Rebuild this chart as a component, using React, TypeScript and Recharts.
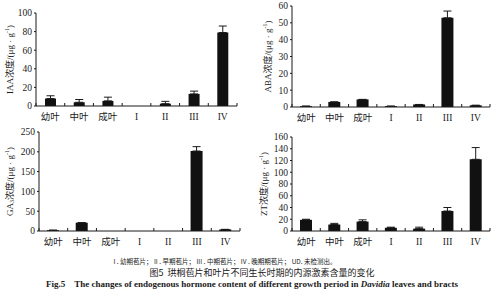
import React from 'react';
import { BarChart, Bar, XAxis, YAxis, ErrorBar } from 'recharts';

const categories = ['幼叶', '中叶', '成叶', 'I', 'II', 'III', 'IV'];

const iaaValues = [8, 4, 5.5, 0, 2.5, 13, 79];
const iaaErrors = [3, 3, 4, 0, 2.5, 3, 7];
const iaaTicks = [0, 20, 40, 60, 80, 100];

const abaValues = [0.5, 3, 4.5, 0.5, 1.5, 53, 1];
const abaErrors = [0, 0, 0, 0, 0, 4, 0];
const abaTicks = [0, 10, 20, 30, 40, 50, 60];

const gaValues = [2, 21, 0, 0, 0, 202, 4];
const gaErrors = [0, 0, 0, 0, 0, 11, 0];
const gaTicks = [0, 50, 100, 150, 200, 250];

const ztValues = [19, 11, 16, 5.5, 4, 34, 122];
const ztErrors = [1, 2, 3, 1, 2.5, 6, 20];
const ztTicks = [0, 20, 40, 60, 80, 100, 120, 140, 160];

const FONT = "'Liberation Serif', 'Times New Roman', 'Noto Sans CJK SC', serif";
const INK = '#1a1a1a';

function buildRows(values: number[], errors: number[]) {
  return categories.map((name, i) => ({ name, value: values[i], err: [0, errors[i]] }));
}

function CatTick(props: any) {
  const { x, payload, index, axisY, band } = props;
  const left = x - band / 2;
  return (
    <g>
      <line x1={left} x2={left} y1={axisY} y2={axisY - 3} stroke={INK} strokeWidth={1} />
      {index === categories.length - 1 ? (
        <line x1={x + band / 2} x2={x + band / 2} y1={axisY} y2={axisY - 3} stroke={INK} strokeWidth={1} />
      ) : null}
      <text x={x} y={axisY + 14} textAnchor="middle" fontSize={9.5} fill={INK} fontFamily={FONT}>
        {payload.value}
      </text>
    </g>
  );
}

function YLabel(props: any) {
  const { viewBox, lx, main, sub } = props;
  const cy = viewBox.y + viewBox.height / 2;
  return (
    <text
      x={lx}
      y={cy}
      transform={`rotate(-90, ${lx}, ${cy})`}
      textAnchor="middle"
      dominantBaseline="central"
      fontSize={9}
      fill={INK}
      fontFamily={FONT}
    >
      {main}
      {sub ? (
        <tspan fontSize={6} dy={2}>{sub}</tspan>
      ) : null}
      <tspan dy={sub ? -2 : 0}>浓度/(μg · g</tspan>
      <tspan fontSize={6} dy={-3}>-1</tspan>
      <tspan dy={3}>)</tspan>
    </text>
  );
}

type PanelProps = {
  left: number;
  top: number;
  width: number;
  height: number;
  margin: { top: number; right: number; bottom: number; left: number };
  yWidth: number;
  xHeight: number;
  values: number[];
  errors: number[];
  ticks: number[];
  labelMain: string;
  labelSub?: string;
  labelX: number;
  barSize: number;
};

function Panel(p: PanelProps) {
  const data = buildRows(p.values, p.errors);
  const plotW = p.width - p.margin.left - p.margin.right - p.yWidth;
  const band = plotW / categories.length;
  const axisY = p.height - p.margin.bottom - p.xHeight;
  const max = p.ticks[p.ticks.length - 1];
  return (
    <div style={{ position: 'absolute', left: p.left, top: p.top }}>
      <BarChart width={p.width} height={p.height} data={data} margin={p.margin} barCategoryGap={0}>
        <XAxis
          dataKey="name"
          height={p.xHeight}
          axisLine={{ stroke: INK, strokeWidth: 1 }}
          tickLine={false}
          interval={0}
          tick={(tp: any) => <CatTick {...tp} axisY={axisY} band={band} />}
        />
        <YAxis
          width={p.yWidth}
          domain={[0, max]}
          ticks={p.ticks}
          interval={0}
          axisLine={{ stroke: INK, strokeWidth: 1 }}
          tickLine={{ stroke: INK, strokeWidth: 1 }}
          tickSize={2}
          tickMargin={2}
          tick={{ fontSize: 9.5, fill: INK, fontFamily: FONT }}
          label={<YLabel lx={p.labelX} main={p.labelMain} sub={p.labelSub} />}
        />
        <Bar dataKey="value" fill="#111" barSize={p.barSize} isAnimationActive={false}>
          <ErrorBar dataKey="err" width={4} stroke={INK} strokeWidth={1} direction="y" />
        </Bar>
      </BarChart>
    </div>
  );
}

export default function App() {
  return (
    <div
      style={{
        position: 'fixed',
        left: 0,
        top: 0,
        width: 500,
        height: 301,
        background: '#fff',
        overflow: 'hidden',
        fontFamily: FONT,
      }}
    >
      <Panel
        left={0}
        top={0}
        width={250}
        height={125}
        margin={{ top: 13, right: 13, bottom: 0, left: 0 }}
        yWidth={36}
        xHeight={19}
        values={iaaValues}
        errors={iaaErrors}
        ticks={iaaTicks}
        labelMain="IAA"
        labelX={10}
        barSize={11}
      />
      <Panel
        left={250}
        top={0}
        width={250}
        height={125}
        margin={{ top: 6, right: 10, bottom: 0, left: 0 }}
        yWidth={42}
        xHeight={18}
        values={abaValues}
        errors={abaErrors}
        ticks={abaTicks}
        labelMain="ABA"
        labelX={18}
        barSize={12}
      />
      <Panel
        left={0}
        top={125}
        width={250}
        height={125}
        margin={{ top: 7, right: 10, bottom: 0, left: 0 }}
        yWidth={39}
        xHeight={19}
        values={gaValues}
        errors={gaErrors}
        ticks={gaTicks}
        labelMain="GA"
        labelSub="3"
        labelX={10}
        barSize={12}
      />
      <Panel
        left={250}
        top={125}
        width={250}
        height={125}
        margin={{ top: 12, right: 10, bottom: 0, left: 0 }}
        yWidth={42}
        xHeight={19}
        values={ztValues}
        errors={ztErrors}
        ticks={ztTicks}
        labelMain="ZT"
        labelX={14}
        barSize={12}
      />
      <div
        style={{
          position: 'absolute',
          left: 0,
          width: 450,
          top: 256,
          textAlign: 'center',
          fontSize: 6.5,
          color: INK,
          fontFamily: "'Noto Sans CJK SC', sans-serif",
          lineHeight: 'normal',
          whiteSpace: 'nowrap',
        }}
      >
        I . 幼期苞片； II . 早期苞片； III . 中期苞片； IV . 晚期期苞片； UD. 未检测出。
      </div>
      <div
        style={{
          position: 'absolute',
          left: 0,
          width: 524,
          top: 265.5,
          textAlign: 'center',
          fontSize: 9,
          color: INK,
          fontFamily: "'Noto Sans CJK SC', sans-serif",
          lineHeight: 'normal',
          whiteSpace: 'nowrap',
        }}
      >
        图5&nbsp;&nbsp;珙桐苞片和叶片不同生长时期的内源激素含量的变化
      </div>
      <div
        style={{
          position: 'absolute',
          left: 0,
          width: 504,
          top: 279,
          textAlign: 'center',
          fontSize: 9,
          fontWeight: 'bold',
          color: INK,
          fontFamily: "'Liberation Serif', serif",
          lineHeight: 'normal',
          whiteSpace: 'nowrap',
        }}
      >
        Fig.5&nbsp;&nbsp;&nbsp;&nbsp;The changes of endogenous hormone content of different growth period in <i>Davidia</i> leaves and bracts
      </div>
    </div>
  );
}
